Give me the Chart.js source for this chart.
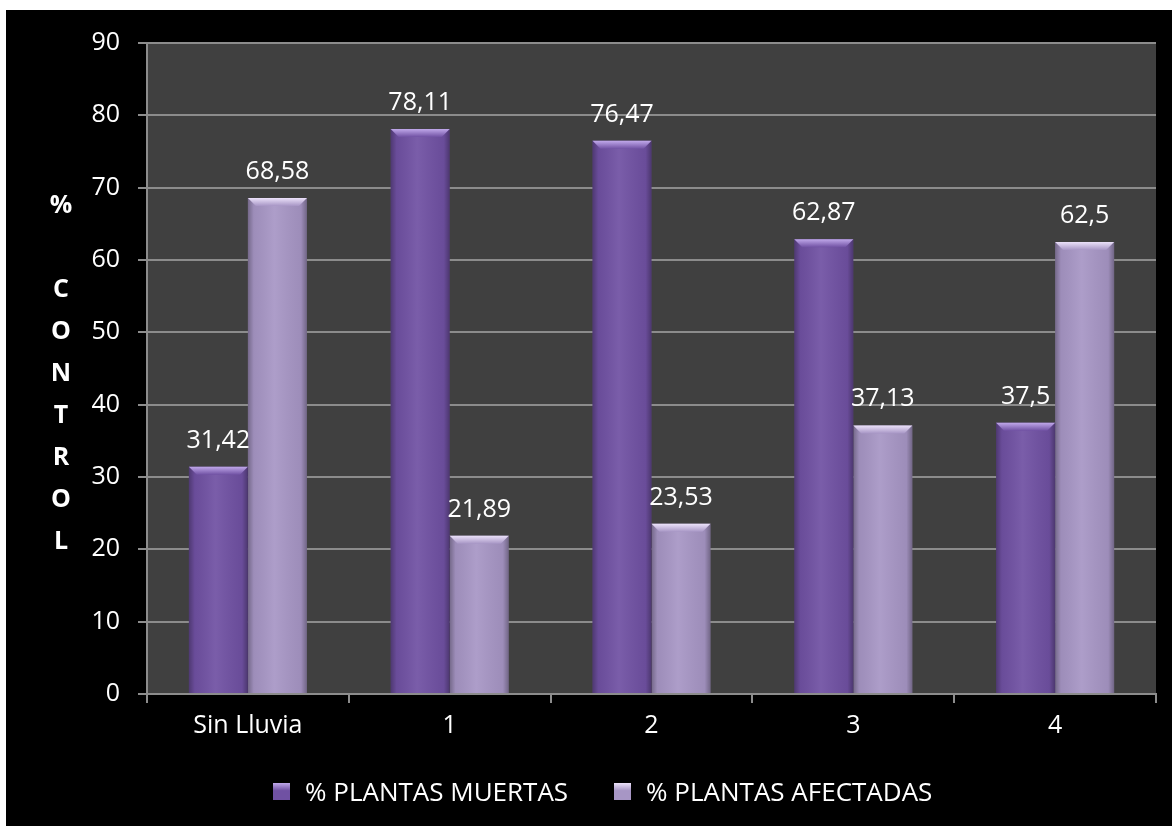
<!DOCTYPE html>
<html>
<head>
<meta charset="utf-8">
<script src="https://cdn.jsdelivr.net/npm/chart.js@4.4.0/dist/chart.umd.min.js"></script>
<style>
  html, body { margin: 0; padding: 0; background: #ffffff; }
  #wrap {
    position: absolute; left: 6px; top: 10px;
    width: 1166px; height: 816px; background: #000000;
  }
  #chart { display: block; }
  #legend {
    position: absolute; left: 267px; top: 763px;
    display: flex; align-items: center;
    font-family: "Open Sans", sans-serif; font-size: 26px; color: #ffffff;
  }
  .item { display: flex; align-items: center; margin-right: 46px; }
  .box { width: 17px; height: 17px; margin-right: 15px; }
</style>
</head>
<body>
<div id="wrap">
  <canvas id="chart" width="1166" height="816"></canvas>
  <div id="legend"></div>
</div>
<script>
// Porcentaje de control por tratamiento de lluvia
const categories = ['Sin Lluvia', '1', '2', '3', '4'];
const plantasMuertas = [31.42, 78.11, 76.47, 62.87, 37.5];
const plantasAfectadas = [68.58, 21.89, 23.53, 37.13, 62.5];
const seriesNames = ['% PLANTAS MUERTAS', '% PLANTAS AFECTADAS'];
const yTitleLetters = ['%', '', 'C', 'O', 'N', 'T', 'R', 'O', 'L'];

const FONT = '"Open Sans", sans-serif';
const GRID = '#8c8c8c';
const barColors = ['#7051a3', '#a796c5'];
const capColors = ['#c0a8ea', '#ece2fa'];

function formatValue(v) {
  return String(v).replace('.', ',');
}

// Dark grey plot background
const plotBackground = {
  id: 'plotBackground',
  beforeDraw(chart) {
    const { ctx, chartArea: a } = chart;
    ctx.save();
    ctx.fillStyle = '#404040';
    ctx.fillRect(a.left, a.top, a.right - a.left, a.bottom - a.top);
    ctx.restore();
  }
};

// Cylinder-ish shading, bevelled top and value labels on each bar
const barDecor = {
  id: 'barDecor',
  afterDatasetsDraw(chart) {
    const ctx = chart.ctx;
    chart.data.datasets.forEach((ds, di) => {
      const meta = chart.getDatasetMeta(di);
      meta.data.forEach((bar, i) => {
        const left = bar.x - bar.width / 2;
        const right = bar.x + bar.width / 2;
        const top = bar.y;
        const bottom = bar.base;
        ctx.save();

        const shade = ctx.createLinearGradient(left, 0, right, 0);
        shade.addColorStop(0, 'rgba(0,0,0,0.30)');
        shade.addColorStop(0.1, 'rgba(0,0,0,0.06)');
        shade.addColorStop(0.45, 'rgba(255,255,255,0.07)');
        shade.addColorStop(0.9, 'rgba(0,0,0,0.06)');
        shade.addColorStop(1, 'rgba(0,0,0,0.32)');
        ctx.fillStyle = shade;
        ctx.fillRect(left, top, right - left, bottom - top);

        const bev = 8;
        const cap = ctx.createLinearGradient(0, top, 0, top + bev);
        cap.addColorStop(0, capColors[di]);
        cap.addColorStop(1, barColors[di]);
        ctx.fillStyle = cap;
        ctx.beginPath();
        ctx.moveTo(left, top);
        ctx.lineTo(right, top);
        ctx.lineTo(right - bev, top + bev);
        ctx.lineTo(left + bev, top + bev);
        ctx.closePath();
        ctx.fill();

        ctx.fillStyle = '#ffffff';
        ctx.font = '25px ' + FONT;
        ctx.textAlign = 'center';
        ctx.textBaseline = 'alphabetic';
        ctx.fillText(formatValue(ds.data[i]), bar.x, top - 19);
        ctx.restore();
      });
    });
  }
};

// Vertical stacked y-axis title
const stackedTitle = {
  id: 'stackedTitle',
  afterDraw(chart) {
    const { ctx, chartArea: a } = chart;
    const step = 42;
    const mid = (a.top + a.bottom) / 2 + 5;
    const first = mid - step * (yTitleLetters.length - 1) / 2;
    ctx.save();
    ctx.fillStyle = '#ffffff';
    ctx.font = 'bold 25px ' + FONT;
    ctx.textAlign = 'center';
    ctx.textBaseline = 'middle';
    yTitleLetters.forEach((ch, k) => {
      if (ch) ctx.fillText(ch, 55, first + k * step);
    });
    ctx.restore();
  }
};

const chart = new Chart(document.getElementById('chart'), {
  type: 'bar',
  data: {
    labels: categories,
    datasets: [
      { label: seriesNames[0], data: plantasMuertas, backgroundColor: barColors[0] },
      { label: seriesNames[1], data: plantasAfectadas, backgroundColor: barColors[1] }
    ]
  },
  options: {
    responsive: false,
    animation: false,
    layout: { padding: { top: 32, right: 16, left: 0, bottom: 72 } },
    datasets: {
      bar: { categoryPercentage: 0.585, barPercentage: 1.0, borderWidth: 0 }
    },
    plugins: {
      legend: { display: false },
      tooltip: { enabled: false }
    },
    scales: {
      x: {
        grid: { drawOnChartArea: false, drawTicks: true, tickLength: 9, color: GRID, lineWidth: 2 },
        border: { color: GRID, width: 2 },
        ticks: { color: '#ffffff', font: { family: FONT, size: 25 }, padding: 8 },
        afterFit(scale) { scale.height = 60; }
      },
      y: {
        min: 0,
        max: 90,
        ticks: { stepSize: 10, color: '#ffffff', font: { family: FONT, size: 25 }, padding: 18 },
        grid: { color: GRID, lineWidth: 2, tickLength: 9 },
        border: { color: GRID, width: 2 },
        afterFit(scale) { scale.width = 141; }
      }
    }
  },
  plugins: [plotBackground, barDecor, stackedTitle]
});

// HTML legend built from the datasets
const legendEl = document.getElementById('legend');
legendEl.innerHTML = chart.data.datasets.map((ds, i) => `
  <div class="item">
    <div class="box" style="background: linear-gradient(180deg, ${capColors[i]} 0%, ${barColors[i]} 45%, ${barColors[i]} 100%);"></div>
    <span>${ds.label}</span>
  </div>
`).join('');
</script>
</body>
</html>
